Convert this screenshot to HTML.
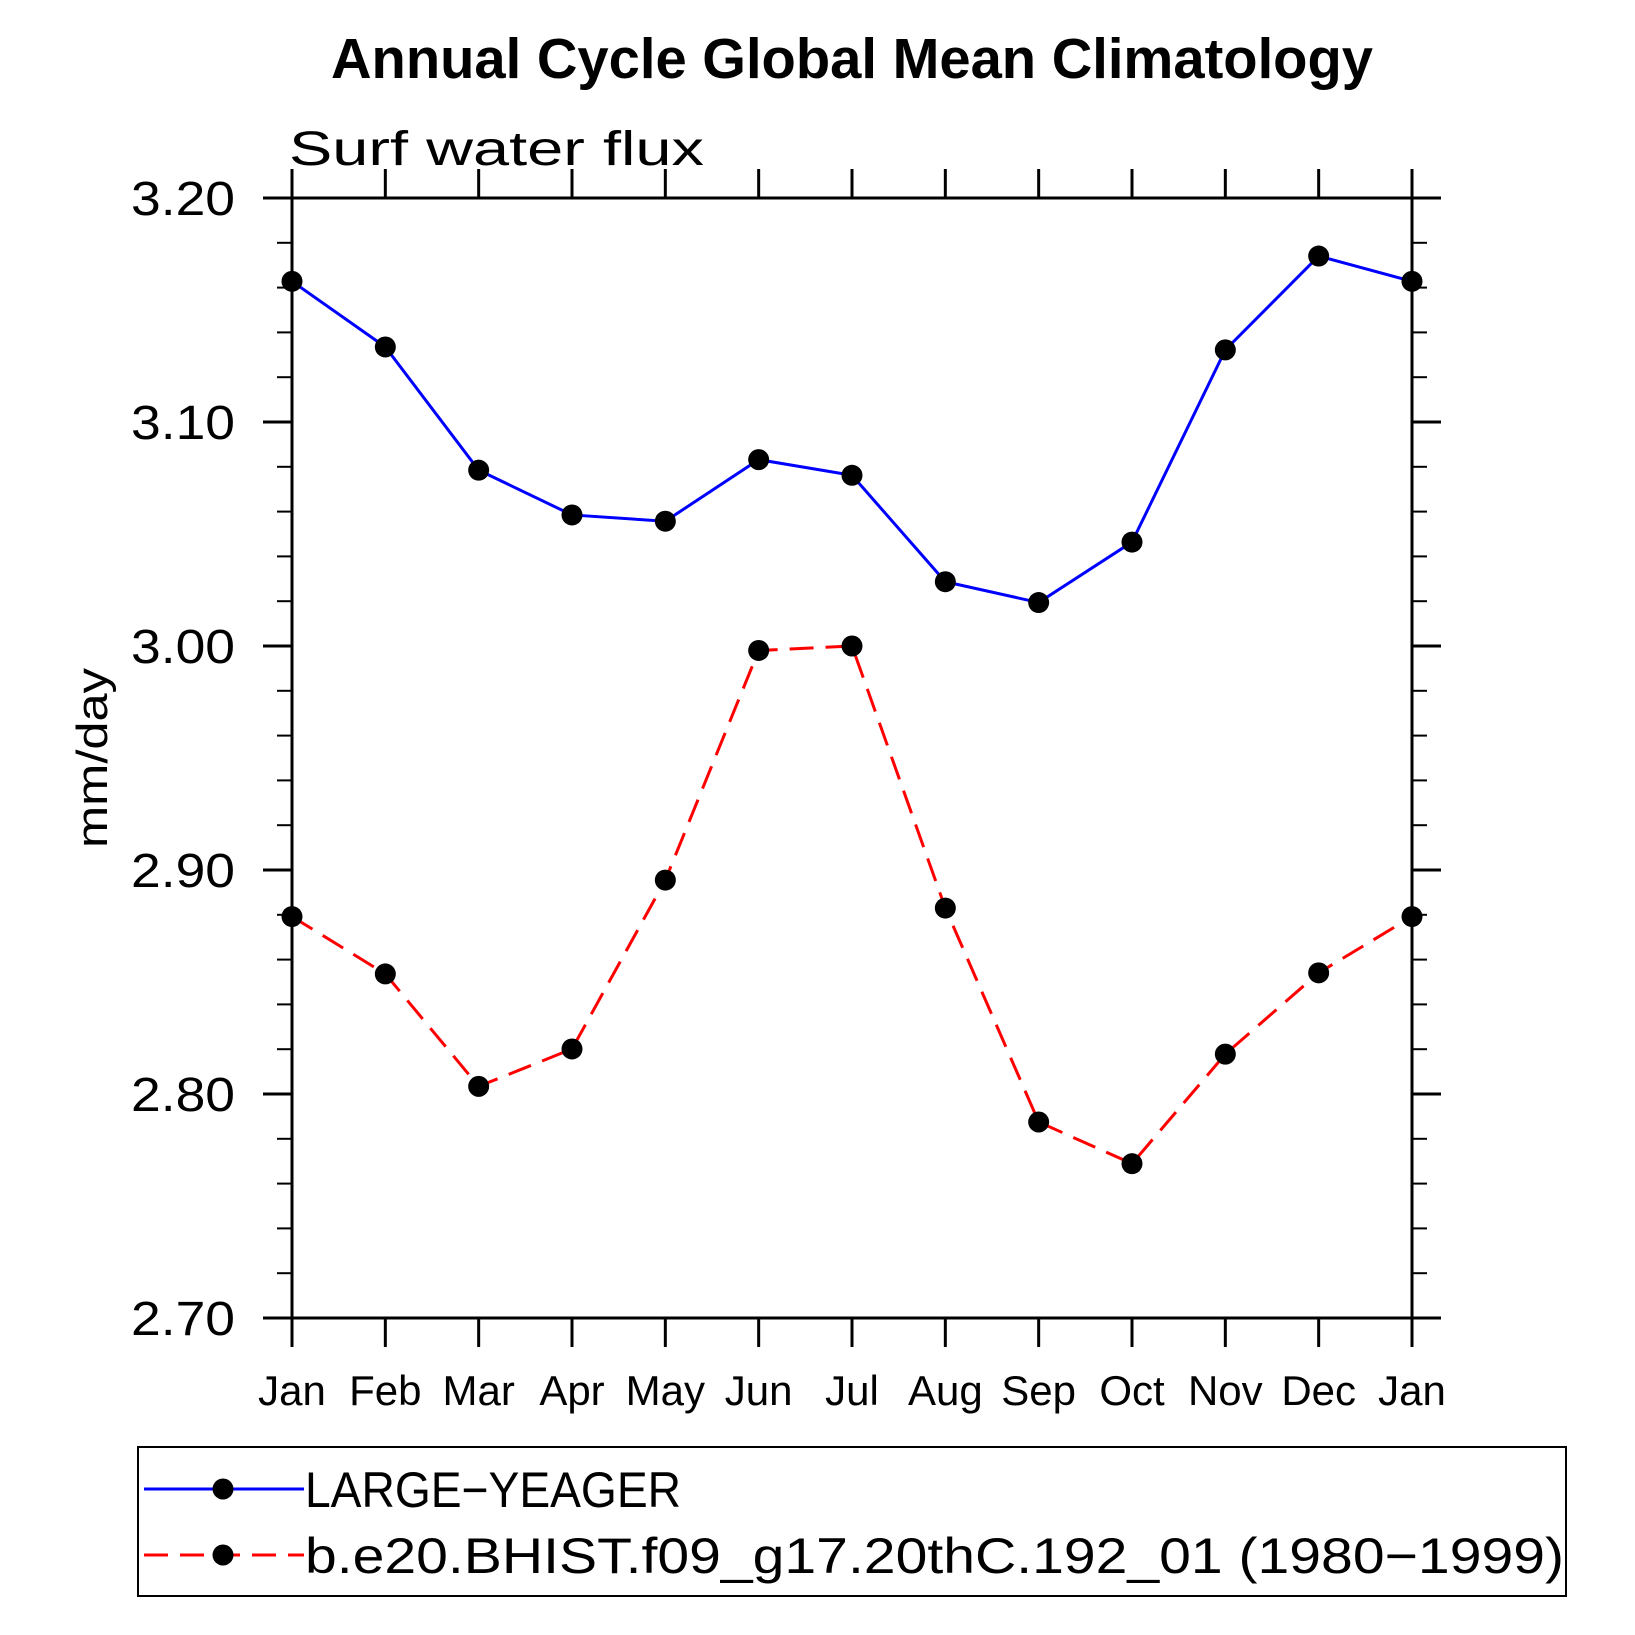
<!DOCTYPE html>
<html><head><meta charset="utf-8"><style>
html,body{margin:0;padding:0;background:#fff;}
svg{display:block;font-family:"Liberation Sans",sans-serif;}
</style></head><body>
<svg id="chart" width="1635" height="1635" viewBox="0 0 1635 1635" xmlns="http://www.w3.org/2000/svg">
<text x="852" y="78" font-size="57" font-weight="bold" text-anchor="middle" textLength="1042" lengthAdjust="spacingAndGlyphs">Annual Cycle Global Mean Climatology</text>
<text x="289" y="165" font-size="48" textLength="415" lengthAdjust="spacingAndGlyphs">Surf water flux</text>
<text transform="translate(107,758) rotate(-90)" font-size="44" text-anchor="middle" textLength="180" lengthAdjust="spacingAndGlyphs">mm/day</text>
<g id="axes"></g>
<g id="series"></g>
<rect x="138" y="1447" width="1428" height="149" fill="none" stroke="#000" stroke-width="2"/>
<line x1="144" y1="1489" x2="304" y2="1489" stroke="#0000ff" stroke-width="3"/>
<circle cx="223" cy="1489" r="10.5" fill="#000"/>
<text x="305" y="1507" font-size="50" textLength="376" lengthAdjust="spacingAndGlyphs">LARGE−YEAGER</text>
<line x1="144" y1="1555" x2="304" y2="1555" stroke="#ff0000" stroke-width="3" stroke-dasharray="24,12"/>
<circle cx="223" cy="1555" r="10.5" fill="#000"/>
<text x="305" y="1573" font-size="50" textLength="1259" lengthAdjust="spacingAndGlyphs">b.e20.BHIST.f09_g17.20thC.192_01 (1980−1999)</text>
</svg>
<script>
const months = ["Jan","Feb","Mar","Apr","May","Jun","Jul","Aug","Sep","Oct","Nov","Dec","Jan"];
const largeYeager = [3.1628,3.1335,3.0785,3.0585,3.0557,3.0832,3.0762,3.0287,3.0194,3.0464,3.1322,3.1741,3.1628];
const bhist = [2.8792,2.8536,2.8034,2.8201,2.8955,2.9980,3.0000,2.8830,2.7875,2.7689,2.8178,2.8541,2.8792];
const yTicks = [2.70,2.80,2.90,3.00,3.10,3.20];
const yTickLabels = ["2.70","2.80","2.90","3.00","3.10","3.20"];
const yMin = 2.70, yMax = 3.20;

const L=292,R=1412,T=198,B=1318;
const NS="http://www.w3.org/2000/svg";
const xs = i => L + (R-L)*i/(months.length-1);
const ys = v => B - (B-T)*(v-yMin)/(yMax-yMin);
function mk(tag, attrs, parent){const e=document.createElementNS(NS,tag);for(const k in attrs)e.setAttribute(k,attrs[k]);parent.appendChild(e);return e;}
const axes=document.getElementById('axes'), ser=document.getElementById('series');
const frame = mk('rect',{x:L,y:T,width:R-L,height:B-T,fill:'none',stroke:'#000','stroke-width':3},axes);


const sw=3;
months.forEach((m,i)=>{
  const x=xs(i);
  const t1=mk('line',{x1:x,y1:B,x2:x,y2:B+29,stroke:'#000','stroke-width':sw},axes);
  
  
  const t2=mk('line',{x1:x,y1:T,x2:x,y2:T-29,stroke:'#000','stroke-width':sw},axes);
  
  
  const tx=mk('text',{x:x,y:1405,'font-size':42,'text-anchor':'middle'},axes);
  tx.textContent=m;
  
  
});
yTicks.forEach((v,i)=>{
  const y=ys(v);
  const a=mk('line',{x1:L-29,y1:y,x2:L,y2:y,stroke:'#000','stroke-width':sw},axes);
  
  
  const b=mk('line',{x1:R,y1:y,x2:R+29,y2:y,stroke:'#000','stroke-width':sw},axes);
  
  
  const tx=mk('text',{x:131,y:y+17,'font-size':48,textLength:104,lengthAdjust:'spacingAndGlyphs'},axes);
  tx.textContent=yTickLabels[i];
  
  
  if(i<yTicks.length-1){
    for(let k=1;k<5;k++){
      const ym=ys(v+0.02*k);
      const c=mk('line',{x1:L-15,y1:ym,x2:L,y2:ym,stroke:'#000','stroke-width':2},axes);
      
      
      const d=mk('line',{x1:R,y1:ym,x2:R+15,y2:ym,stroke:'#000','stroke-width':2},axes);
      
      
    }
  }
});
function drawSeries(vals,color,dash,name){
  const pts=vals.map((v,i)=>xs(i)+','+ys(v)).join(' ');
  const pl=mk('polyline',{points:pts,fill:'none',stroke:color,'stroke-width':3},ser);
  if(dash) pl.setAttribute('stroke-dasharray',dash);
  
  
  vals.forEach((v,i)=>{
    const c=mk('circle',{cx:xs(i),cy:ys(v),r:10.5,fill:'#000'},ser);
    
    
  });
}
drawSeries(largeYeager,'#0000ff',null,'large-yeager');
drawSeries(bhist,'#ff0000','24,12','bhist');
</script>
</body></html>
